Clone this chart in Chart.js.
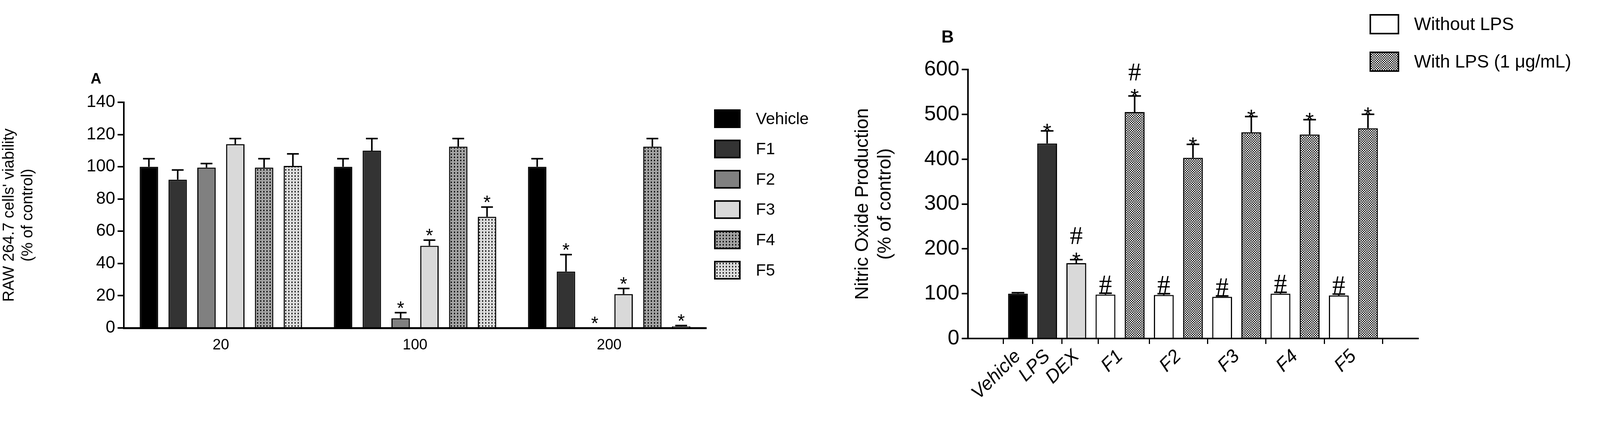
<!DOCTYPE html>
<html><head><meta charset="utf-8">
<script src="https://cdn.jsdelivr.net/npm/chart.js@4"></script>
<style>html,body{margin:0;padding:0;background:#fff;width:4130px;height:1086px;overflow:hidden}
canvas{position:absolute;left:0;top:0}</style></head>
<body>
<canvas id="a" width="4130" height="1086"></canvas>
<canvas id="b" width="4130" height="1086"></canvas>
<script>
// ---------- Panel A data ----------
const concA = ['20','100','200'];
const seriesA = ['Vehicle','F1','F2','F3','F4','F5'];
const vehicleA = [100,100,100], vehicleErrA = [5,5,5];
const f1A = [92,110,35], f1ErrA = [6,7.5,10.5];
const f2A = [99.5,6,0], f2ErrA = [2.5,3.5,0];
const f3A = [114,51,21], f3ErrA = [3.5,3.5,3.5];
const f4A = [99.5,112.5,112.5], f4ErrA = [5.5,5,5];
const f5A = [100.5,69,1], f5ErrA = [7.5,6,0.5];
const starsA = [[0,0,0],[0,0,1],[0,1,1],[0,1,1],[0,0,0],[0,1,1]];
const yTicksA = [0,20,40,60,80,100,120,140];
// ---------- Panel B data ----------
const labelsB = ['Vehicle','LPS','DEX','F1','F2','F3','F4','F5'];
const labelPosB = [0,1,2,3.5,5.5,7.5,9.5,11.5];
const ctrlX = [0,1,2], ctrlVals = [100,435,168], ctrlErr = [2,28,8], ctrlMarks = ['','*','*#'];
const woX = [3,5,7,9,11], woVals = [98,97,93,100,96], woErr = [3,3,2,3,3], woMarks = ['#','#','#','#','#'];
const wX = [4,6,8,10,12], wVals = [505,403,460,455,469], wErr = [36,30,35,33,31], wMarks = ['*#','*','*','*','*'];
const yTicksB = [0,100,200,300,400,500,600];

const NARROW = "'Liberation Sans Narrow','Liberation Sans',Arial,sans-serif";
const SANS = "'Liberation Sans',Arial,sans-serif";

function pat(bg, fg, kind){
  const c=document.createElement('canvas');
  if(kind==='dots'){c.width=8;c.height=8;const x=c.getContext('2d');x.fillStyle=bg;x.fillRect(0,0,8,8);x.fillStyle=fg;x.fillRect(2,1,3,4);}
  else {c.width=6;c.height=6;const x=c.getContext('2d');x.fillStyle=bg;x.fillRect(0,0,6,6);x.fillStyle=fg;x.fillRect(0,0,3,3);x.fillRect(3,3,3,3);}
  return document.createElement('canvas').getContext('2d').createPattern(c,'repeat');
}
const colorsA = ['#000000','#333333','#808080','#d9d9d9',pat('#a3a3a3','#111','dots'),pat('#dcdcdc','#222','dots')];
const checker = pat('#ffffff','#111111','checker');

function errPlugin(drawMarks){
  return {id:'err',afterDatasetsDraw(ch){
    const c=ch.ctx, ys=ch.scales.y;
    ch.data.datasets.forEach((ds,di)=>{
      const meta=ch.getDatasetMeta(di); if(meta.hidden) return;
      meta.data.forEach((el,i)=>{
        const v=(typeof ds.data[i]==='object')?ds.data[i].y:ds.data[i];
        const e=ds.err[i]; const y0=ys.getPixelForValue(v), y1=ys.getPixelForValue(v+e);
        c.save(); c.strokeStyle='#000'; c.lineWidth=4;
        if(e>0){c.beginPath();c.moveTo(el.x,y0);c.lineTo(el.x,y1);c.stroke();
          const hw=el.width*0.32;c.beginPath();c.moveTo(el.x-hw,y1);c.lineTo(el.x+hw,y1);c.stroke();}
        c.restore();
        drawMarks(c,ds,di,i,el,y1);
      });
    });
  }};
}

// ---------- Chart A ----------
const dataArrA=[vehicleA,f1A,f2A,f3A,f4A,f5A], errArrA=[vehicleErrA,f1ErrA,f2ErrA,f3ErrA,f4ErrA,f5ErrA];
new Chart(document.getElementById('a'),{
  type:'bar',
  data:{labels:concA,datasets:seriesA.map((s,k)=>({label:s,data:dataArrA[k],err:errArrA[k],backgroundColor:colorsA[k],borderColor:'#000',borderWidth:3,categoryPercentage:0.89,barPercentage:0.64}))},
  options:{responsive:false,animation:false,devicePixelRatio:1,
    layout:{padding:{left:0,top:262,right:4130-1808,bottom:0}},
    plugins:{legend:{display:false},tooltip:{enabled:false}},
    scales:{
      x:{grid:{display:false,drawTicks:false},border:{color:'#000',width:5},
        ticks:{color:'#000',font:{family:SANS,size:38},padding:22},
        afterFit(s){s.height=246;}},
      y:{min:0,max:140,afterBuildTicks(s){s.ticks=yTicksA.map(v=>({value:v}));},
        grid:{display:true,drawOnChartArea:false,drawTicks:true,tickLength:16,color:'#000',lineWidth:4},
        border:{color:'#000',width:4},
        ticks:{color:'#000',font:{family:NARROW,size:44},padding:6},
        title:{display:true,text:["RAW 264.7 cells' viability","(% of control)"],color:'#000',font:{family:SANS,size:40},padding:{top:0,bottom:4}},
        afterFit(s){s.width=317;}}
    }},
  plugins:[errPlugin((c,ds,di,i,el,y1)=>{
      if(starsA[di][i]){c.save();c.fillStyle='#000';c.font='48px '+SANS;c.textAlign='center';c.textBaseline='alphabetic';c.fillText('*',el.x,y1+4);c.restore();}
    }),
    {id:'extraA',afterDraw(ch){const c=ch.ctx;c.save();c.fillStyle='#000';
      c.font='bold 38px '+SANS;c.textBaseline='middle';c.fillText('A',232,204);
      const ly0=304, dy=77.6;
      ch.data.datasets.forEach((ds,k)=>{const y=ly0+k*dy;
        c.fillStyle=ds.backgroundColor;c.fillRect(1830,y-22,64,44);c.lineWidth=4;c.strokeStyle='#000';c.strokeRect(1830,y-22,64,44);
        c.fillStyle='#000';c.font='42px '+NARROW;c.textBaseline='middle';c.fillText(ds.label,1935,y+2);});
      c.restore();}}]
});

// ---------- Chart B ----------
const toPts=(xs,vs)=>xs.map((x,i)=>({x:x,y:vs[i]}));
const bcommon={borderColor:'#000',borderWidth:3,grouped:false,categoryPercentage:1,barPercentage:0.68};
new Chart(document.getElementById('b'),{
  type:'bar',
  data:{datasets:[
    Object.assign({label:'ctrl',data:toPts(ctrlX,ctrlVals),err:ctrlErr,marks:ctrlMarks,backgroundColor:['#000000','#333333','#d9d9d9']},bcommon),
    Object.assign({label:'Without LPS',data:toPts(woX,woVals),err:woErr,marks:woMarks,backgroundColor:'#ffffff'},bcommon),
    Object.assign({label:'With LPS (1 \u03bcg/mL)',data:toPts(wX,wVals),err:wErr,marks:wMarks,backgroundColor:checker},bcommon)]},
  options:{responsive:false,animation:false,devicePixelRatio:1,
    layout:{padding:{left:2180,top:178,right:4130-3630,bottom:0}},
    plugins:{legend:{display:false},tooltip:{enabled:false}},
    scales:{
      x:{type:'linear',min:-0.75,max:12.75,
        afterBuildTicks(s){s.ticks=labelPosB.map(v=>({value:v}));},
        grid:{display:true,drawOnChartArea:false,drawTicks:true,tickLength:14,color:'#000',lineWidth:3},
        border:{color:'#000',width:4},
        ticks:{color:'#000',font:{family:SANS,size:48,style:'italic'},maxRotation:45,minRotation:45,autoSkip:false,padding:4,
          callback(v){const k=labelPosB.indexOf(v);return k>=0?labelsB[k]:'';}},
        afterFit(s){s.height=1086-867;}},
      y:{min:0,max:600,afterBuildTicks(s){s.ticks=yTicksB.map(v=>({value:v}));},
        grid:{display:true,drawOnChartArea:false,drawTicks:true,tickLength:16,color:'#000',lineWidth:4},
        border:{color:'#000',width:4},
        ticks:{color:'#000',font:{family:NARROW,size:54},padding:6},
        title:{display:true,text:['Nitric Oxide Production','(% of control)'],color:'#000',font:{family:SANS,size:48},padding:{top:0,bottom:2}},
        afterFit(s){s.width=2478-2180;}}
    }},
  plugins:[
    errPlugin((c,ds,di,i,el,y1)=>{
      const m=ds.marks[i]; if(!m) return; c.save();c.fillStyle='#000';c.textAlign='center';
      let y=y1-2;
      for(const ch of m){ if(ch==='*'){c.font='56px '+SANS;c.fillText('*',el.x,y+22);y-=38;} else {c.font="66px 'Liberation Serif',serif";c.fillText('#',el.x,y);y-=56;} }
      c.restore();}),
    {id:'extraB',afterDraw(ch){const c=ch.ctx;c.save();c.fillStyle='#000';
      c.font='bold 44px '+SANS;c.textBaseline='middle';c.fillText('B',2410,97);
      [[1,62],[2,158]].forEach(([di,y])=>{const ds=ch.data.datasets[di];
        c.fillStyle=ds.backgroundColor;c.fillRect(3508,y-24,72,48);c.lineWidth=4;c.strokeStyle='#000';c.strokeRect(3508,y-24,72,48);
        c.fillStyle='#000';c.font='46px '+NARROW;c.fillText(ds.label,3620,y+2);});
      c.restore();}}]
});
</script>
</body></html>
